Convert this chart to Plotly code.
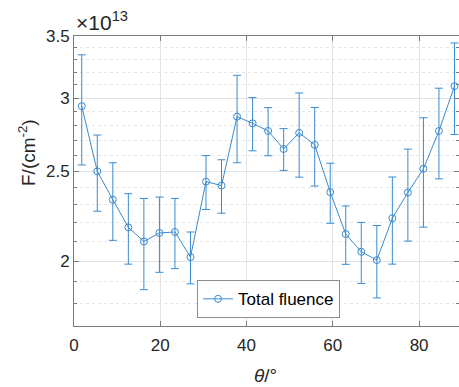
import numpy as np
import plotly.graph_objects as go

# data (fluence in units of 1e13 cm^-2)
theta = [1.8, 5.4, 9.0, 12.6, 16.2, 19.8, 23.4, 27.0, 30.6, 34.2, 37.8, 41.4, 45.0,
         48.6, 52.2, 55.8, 59.4, 63.0, 66.6, 70.2, 73.8, 77.4, 81.0, 84.6, 88.2]
fluence = [2.94, 2.50, 2.33, 2.175, 2.10, 2.145, 2.15, 2.02, 2.437, 2.413, 2.864, 2.817, 2.764,
           2.643, 2.751, 2.670, 2.374, 2.139, 2.047, 2.005, 2.225, 2.372, 2.516, 2.764, 3.09]
err = [0.40, 0.236, 0.224, 0.19, 0.237, 0.20, 0.187, 0.13, 0.163, 0.16, 0.31, 0.186, 0.165,
       0.137, 0.287, 0.26, 0.177, 0.155, 0.155, 0.18, 0.24, 0.27, 0.34, 0.31, 0.35]
ytick_vals = [2, 2.5, 3, 3.5]
ytick_text = ["2", "2.5", "3", "3.5"]
yminor_vals = [1.8, 1.9, 2.1, 2.2, 2.3, 2.4, 2.6, 2.7, 2.8, 2.9, 3.1, 3.2, 3.3, 3.4]
xtick_vals = [0, 20, 40, 60, 80]

blue = "#3a8bd0"
W, H = 459, 387
L, R, T, B = 74, 0, 36, 61

fig = go.Figure()
fig.add_trace(go.Scatter(
    x=theta, y=fluence, mode="lines+markers", name="Total fluence",
    line=dict(color=blue, width=1),
    marker=dict(symbol="circle-open", size=7, color=blue, line=dict(width=1, color=blue)),
    error_y=dict(type="data", array=err, visible=True, color=blue, thickness=1, width=4),
))

axcol = "#7a7a7a"
font = "Liberation Sans, Arial, sans-serif"
fig.update_layout(
    width=W, height=H,
    margin=dict(l=L, r=R, t=T, b=B),
    paper_bgcolor="white", plot_bgcolor="white",
    font=dict(family=font, size=17, color="#262626"),
    showlegend=True,
    legend=dict(x=(197 - L) / (W - L - R), y=(325.7 - 318) / (H - T - B - 0.3),
                xanchor="left", yanchor="bottom",
                bgcolor="white", bordercolor="#8c8c8c", borderwidth=1,
                font=dict(size=17, color="#000000"),
                itemwidth=30, tracegroupgap=0),
    xaxis=dict(range=[0, 89.25], tickvals=xtick_vals, ticks="inside", ticklen=5,
               tickcolor=axcol, showline=True, linecolor=axcol, linewidth=1, mirror="ticks",
               showgrid=True, gridcolor="#e3e3e3", gridwidth=1, zeroline=False,
               ticklabelstandoff=4,
               tickfont=dict(size=17, color="#262626")),
    yaxis=dict(type="log", range=[np.log10(1.702), np.log10(3.5)],
               tickvals=ytick_vals, ticktext=ytick_text, ticks="inside", ticklen=5,
               tickcolor=axcol, showline=True, linecolor=axcol, linewidth=1, mirror="ticks",
               showgrid=True, gridcolor="#e3e3e3", gridwidth=1, zeroline=False,
               tickfont=dict(size=17, color="#262626"),
               minor=dict(tickvals=yminor_vals, ticks="inside", ticklen=3, tickcolor=axcol,
                          showgrid=True, gridcolor="#e6e6e6", griddash="dot", gridwidth=1)),
    annotations=[
        dict(text="×10<sup>13</sup>", xref="paper", yref="paper", x=0.0, y=1.0,
             xanchor="left", yanchor="bottom", showarrow=False, yshift=0,
             font=dict(size=21, color="#262626")),
        dict(text="F/(cm<sup>-2</sup>)", xref="paper", yref="paper",
             x=-(L - 27) / (W - L - R), y=(H - B - 153) / (H - T - B),
             xanchor="center", yanchor="middle", textangle=-90, showarrow=False,
             font=dict(size=19, color="#262626")),
        dict(text="<i>θ</i>/°", xref="paper", yref="paper",
             x=(265 - L) / (W - L - R), y=-(375 - (H - B)) / (H - T - B),
             xanchor="center", yanchor="middle", showarrow=False,
             font=dict(size=19, color="#262626")),
    ],
)

fig.write_html("out.html")
